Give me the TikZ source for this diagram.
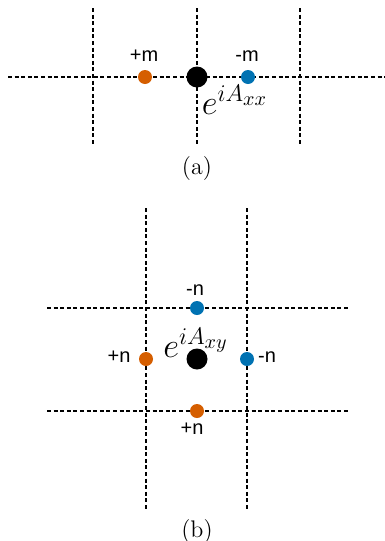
\documentclass[tikz,border=0pt]{standalone}
\usepackage{fontspec}
\usepackage{amsmath}
\newfontfamily\lblfont{Liberation Sans}
\definecolor{vermil}{HTML}{D55E00}
\definecolor{skyblu}{HTML}{0072B2}

\begin{document}
\begin{tikzpicture}[
  x = 0.5pt, y = -0.5pt,
  grid/.style={line width=1pt, dash pattern=on 2pt off 1.3pt},
  plus/.style={circle, fill=vermil, inner sep=0pt, minimum size=7pt},
  minus/.style={circle, fill=skyblu, inner sep=0pt, minimum size=7pt},
  link/.style={circle, fill=black, inner sep=0pt, minimum size=10.5pt},
  charge/.style={font=\lblfont, inner sep=1pt},
  phase/.style={font=\LARGE, inner sep=0pt},
  caption/.style={font=\large, inner sep=1pt}
]
\useasboundingbox (0,0) rectangle (385,541);

%general params
\def\yA{77}   %row of panel a
\def\yB{359}  %centre row of panel b

%%% panel (a)

%gridlines
\coordinate (a1t) at (93,8);   \coordinate (a1b) at (93,145);
\coordinate (a2t) at (197,8);  \coordinate (a2b) at (197,145);
\coordinate (a3t) at (300,8);  \coordinate (a3b) at (300,145);
\coordinate (ahl) at (8,\yA);  \coordinate (ahr) at (385,\yA);
\draw[grid] (a1t) -- (a1b);
\draw[grid] (a2t) -- (a2b);
\draw[grid] (a3t) -- (a3b);
\draw[grid] (ahl) -- (ahr);

%sites
\node[plus]  (apl) at (145,\yA) {};
\node[link]  (alk) at (197,\yA) {};
\node[minus] (amn) at (248,\yA) {};

\node[charge] (aplt) at (144,56) {+m};
\node[charge] (amnt) at (247,56) {-m};
\node[phase]  (aph)  at (235,100) {$e^{iA_{xx}}$};

\node[caption] (capa) at (197,169) {(a)};

%%% panel (b)

%gridlines
\coordinate (b1t) at (146,208); \coordinate (b1b) at (146,510);
\coordinate (b2t) at (247,208); \coordinate (b2b) at (247,510);
\coordinate (b1l) at (47,308);  \coordinate (b1r) at (349,308);
\coordinate (b2l) at (47,411);  \coordinate (b2r) at (349,411);
\draw[grid] (b1t) -- (b1b);
\draw[grid] (b2t) -- (b2b);
\draw[grid] (b1l) -- (b1r);
\draw[grid] (b2l) -- (b2r);

%sites
\node[minus] (bmt) at (197,308) {};
\node[plus]  (bpl) at (146,\yB) {};
\node[link]  (blk) at (197,\yB) {};
\node[minus] (bmr) at (247,\yB) {};
\node[plus]  (bpb) at (197,411) {};

\node[charge] (bmtt) at (195,290) {-n};
\node[charge] (bplt) at (119,357) {+n};
\node[charge] (bmrt) at (267,357) {-n};
\node[charge] (bpbt) at (192,429) {+n};
\node[phase]  (bph)  at (196,343) {$e^{iA_{xy}}$};

\node[caption] (capb) at (197,532) {(b)};

\end{tikzpicture}
\end{document}
